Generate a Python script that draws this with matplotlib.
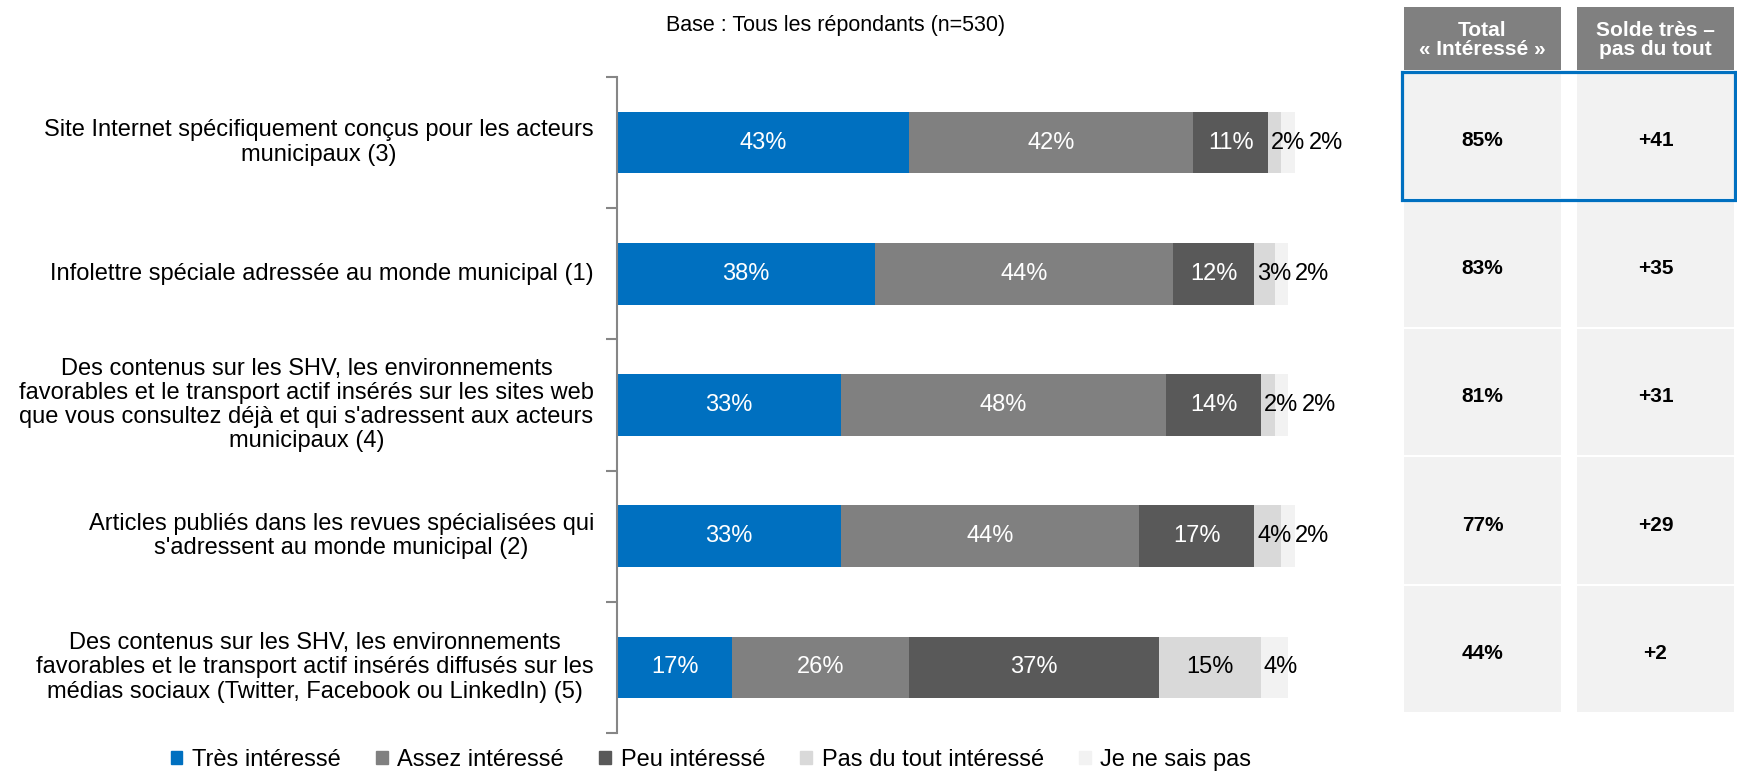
import matplotlib.pyplot as plt
import matplotlib.patches as mpatches
import numpy as np

plt.rcParams['font.family'] = ['Liberation Sans', 'DejaVu Sans']

# categories, top to bottom
items = ["Site Internet spécifiquement conçus pour les acteurs\nmunicipaux (3)",
         "Infolettre spéciale adressée au monde municipal (1)",
         "Des contenus sur les SHV, les environnements\nfavorables et le transport actif insérés sur les sites web\n"
         "que vous consultez déjà et qui s'adressent aux acteurs\nmunicipaux (4)",
         "Articles publiés dans les revues spécialisées qui\ns'adressent au monde municipal (2)",
         "Des contenus sur les SHV, les environnements\nfavorables et le transport actif insérés diffusés sur les\n"
         "médias sociaux (Twitter, Facebook ou LinkedIn) (5)"]

series = ["Très intéressé", "Assez intéressé", "Peu intéressé", "Pas du tout intéressé", "Je ne sais pas"]
tres = [43, 38, 33, 33, 17]
assez = [42, 44, 48, 44, 26]
peu = [11, 12, 14, 17, 37]
pas_du_tout = [2, 3, 2, 4, 15]
nsp = [2, 2, 2, 2, 4]

total_interesse = ["85%", "83%", "81%", "77%", "44%"]
solde = ["+41", "+35", "+31", "+29", "+2"]
headers = ["Total\n« Intéressé »", "Solde très –\npas du tout"]

colors = ["#0070C0", "#808080", "#595959", "#D9D9D9", "#F2F2F2"]
text_colors = ["white", "white", "white", "black", "black"]

W, H = 1737, 771
fig = plt.figure(figsize=(W / 100, H / 100), dpi=100)
fig.patch.set_facecolor("white")

# stacked bars
ax = fig.add_axes([617 / W, 1 - 733 / H, 678 / W, 656 / H])
ax.set_xlim(0, 100)
ax.set_ylim(len(items) - 0.5, -0.5)
renderer = fig.canvas.get_renderer()
inv = ax.transData.inverted()

y = np.arange(len(items))
left = np.zeros(len(items))
last_end = np.full(len(items), -np.inf)  # right edge of the previous label, data units
handles = []
for vals, col, tcol, name in zip([tres, assez, peu, pas_du_tout, nsp], colors, text_colors, series):
    vals = np.array(vals, dtype=float)
    bars = ax.barh(y, vals, left=left, height=0.47, color=col, label=name)
    for i, (b, v) in enumerate(zip(bars, vals)):
        yc = b.get_y() + b.get_height() / 2
        t = ax.text(b.get_x() + b.get_width() / 2, yc, "%d%%" % v,
                    ha="center", va="center", color=tcol, fontsize=17)
        bb = t.get_window_extent(renderer)
        x0, x1 = inv.transform([[bb.x0, 0], [bb.x1, 0]])[:, 0]
        if x1 - x0 > b.get_width():
            # too narrow: start at the segment, after any previous label
            xs = max(b.get_x() + 0.4, last_end[i])
            t.set_x(xs)
            t.set_ha("left")
            last_end[i] = xs + (x1 - x0) + 0.6
        else:
            last_end[i] = x1
    left += vals
    handles.append(mpatches.Patch(color=col, label=name))

ax.set_yticks([])
ax.set_yticks(np.arange(len(items) + 1) - 0.5, minor=True)
ax.tick_params(axis="y", which="minor", length=8, width=1.5, color="#868686", labelleft=False)
ax.set_xticks([])
for s in ["top", "right", "bottom"]:
    ax.spines[s].set_visible(False)
ax.spines["left"].set_color("#868686")
ax.spines["left"].set_linewidth(1.5)

for i, lab in enumerate(items):
    ax.text(-3.4, i, lab, ha="right", va="center", multialignment="center", fontsize=17, linespacing=1.13)

fig.text(836 / W, 1 - 25 / H, "Base : Tous les répondants (n=530)", ha="center", va="center", fontsize=15.5)

fig.legend(handles=handles, loc="center", bbox_to_anchor=(711 / W, 1 - 760 / H), ncol=5, frameon=False,
           fontsize=17, handlelength=0.5, handleheight=0.5, handletextpad=0.4, columnspacing=1.5,
           borderpad=0, borderaxespad=0)

# side table, laid out in pixel units
tx = fig.add_axes([1395 / W, 0, 342 / W, 1])
tx.set_xlim(1395, 1737)
tx.set_ylim(H, 0)
tx.axis("off")

cols = [(1404, 157), (1577, 157)]
for (x0, w), head in zip(cols, headers):
    tx.add_patch(mpatches.Rectangle((x0, 7), w, 63, color="#808080", lw=0))
    tx.text(x0 + w / 2, 40, head, ha="center", va="center", color="white", fontsize=15,
            fontweight="bold", linespacing=1.05)

row_h = 128.4
for i in range(len(items)):
    y0 = 72 + i * row_h
    for (x0, w), val in zip(cols, [total_interesse[i], solde[i]]):
        tx.add_patch(mpatches.Rectangle((x0, y0), w, row_h - 2, color="#F2F2F2", lw=0))
        tx.text(x0 + w / 2, y0 + row_h / 2 + 4, val, ha="center", va="center", fontsize=15, fontweight="bold")

# highlight of the first row
tx.add_patch(mpatches.Rectangle((1402, 72), 333, 128, fill=False, edgecolor="#0070C0", lw=2.3, clip_on=False))

fig.savefig("out.png", dpi=100, facecolor="white")
